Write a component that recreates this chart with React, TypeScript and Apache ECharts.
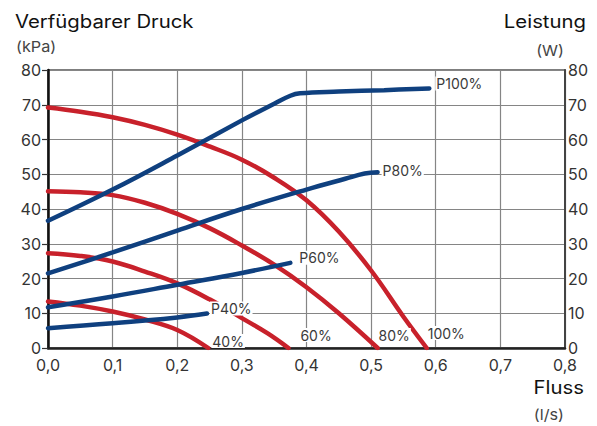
import React, { useEffect, useRef } from "react";
import * as echarts from "echarts";

// Pressure curves (kPa) – x: flow l/s
const p100: [number, number][] = [[0, 69.2], [0.05, 68.0], [0.1, 66.4], [0.15, 64.2], [0.2, 61.4], [0.25, 58.0], [0.3, 54.2], [0.35, 49.0], [0.4, 42.5], [0.45, 33.5], [0.5, 22.3], [0.55, 9.0], [0.586, 0]];
const p80: [number, number][] = [[0, 45.1], [0.05, 44.8], [0.1, 44.0], [0.15, 41.8], [0.2, 38.6], [0.25, 34.5], [0.3, 29.5], [0.35, 24.0], [0.4, 17.5], [0.45, 10.0], [0.51, 0]];
const p60: [number, number][] = [[0, 27.3], [0.05, 26.5], [0.1, 24.9], [0.15, 22.0], [0.2, 18.6], [0.25, 14.0], [0.3, 8.6], [0.34, 4.2], [0.372, 0]];
const p40: [number, number][] = [[0, 13.4], [0.05, 12.2], [0.1, 10.5], [0.15, 8.2], [0.2, 5.2], [0.248, 0]];

// Power curves (W)
const w100: [number, number][] = [[0, 36.6], [0.1, 45.6], [0.2, 55.4], [0.3, 65.5], [0.35, 70.3], [0.375, 72.6], [0.39, 73.3], [0.45, 73.8], [0.52, 74.2], [0.59, 74.7]];
const w80: [number, number][] = [[0, 21.5], [0.1, 27.5], [0.2, 33.8], [0.3, 40.0], [0.4, 45.6], [0.46, 48.7], [0.49, 50.2], [0.51, 50.6]];
const w60: [number, number][] = [[0, 11.7], [0.1, 14.8], [0.2, 18.2], [0.3, 21.6], [0.375, 24.5]];
const w40: [number, number][] = [[0, 5.7], [0.1, 7.1], [0.2, 8.8], [0.246, 9.9]];

const pressureNames = ["100%", "80%", "60%", "40%"];
const powerNames = ["P100%", "P80%", "P60%", "P40%"];

const RED = "#c8212b";
const BLUE = "#0f407f";
const FONT = "Inter";

export default function App() {
  const ref = useRef<HTMLDivElement>(null);
  useEffect(() => {
    if (!ref.current) return;
    const chart = echarts.init(ref.current, undefined, { renderer: "svg" });
    const pData = [p100, p80, p60, p40];
    const wData = [w100, w80, w60, w40];
    const pOff: [number, number][] = [[-4, -15], [-4, -13], [7, -13], [-1, -7]];
    const wOff: [number, number][] = [[2, -5], [0, -2], [4, -5], [-1, -5]];
    const labelStyle = {
      show: true,
      color: "#3a3a3a",
      fontSize: 14,
      fontFamily: FONT,
      backgroundColor: "#fff",
      padding: [0, 1, 0, 1],
      distance: 4,
    };
    const series: any[] = [];
    pData.forEach((d, i) => {
      series.push({
        type: "line",
        name: pressureNames[i],
        data: d,
        yAxisIndex: 0,
        smooth: 0.4,
        showSymbol: false,
        lineStyle: { color: RED, width: 4.5, cap: "round" },
        endLabel: { ...labelStyle, formatter: pressureNames[i], offset: pOff[i] },
        z: 2,
      });
    });
    wData.forEach((d, i) => {
      series.push({
        type: "line",
        name: powerNames[i],
        data: d,
        yAxisIndex: 1,
        smooth: 0.4,
        showSymbol: false,
        lineStyle: { color: BLUE, width: 4.5, cap: "round" },
        endLabel: { ...labelStyle, formatter: powerNames[i], offset: wOff[i] },
        z: 3,
      });
    });
    const big = (text: string, x: number, y: number, align: string) => ({
      type: "text",
      x,
      y,
      scaleX: 1.13,
      style: { text, font: `18px ${FONT}`, fill: "#111", align, verticalAlign: "middle" },
    });
    const small = (text: string, x: number, y: number, align: string) => ({
      type: "text",
      x,
      y,
      scaleX: 1.08,
      style: { text, font: `15px ${FONT}`, fill: "#444", align, verticalAlign: "middle" },
    });
    chart.setOption({
      animation: false,
      textStyle: { fontFamily: FONT },
      graphic: [
        big("Verfügbarer Druck", 15, 21, "left"),
        small("(kPa)", 16, 47, "left"),
        big("Leistung", 586, 21, "right"),
        small("(W)", 564, 51, "right"),
        big("Fluss", 584, 387, "right"),
        small("(l/s)", 564, 415, "right"),
      ],
      grid: { left: 48, right: 32, top: 70, bottom: 78, show: true, borderColor: "#555", borderWidth: 1.5, backgroundColor: "transparent" },
      xAxis: {
        type: "value",
        min: 0,
        max: 0.8,
        interval: 0.1,
        axisLine: { show: true, onZero: false, lineStyle: { color: "#222", width: 2.5 } },
        axisTick: { show: false },
        splitLine: { show: true, lineStyle: { color: "#858585", width: 1.2 } },
        axisLabel: { color: "#333", fontSize: 16, fontFamily: FONT, margin: 10, lineHeight: 14, formatter: (v: number) => v.toFixed(1).replace(".", ",") },
      },
      yAxis: [
        {
          type: "value",
          min: 0,
          max: 80,
          interval: 10,
          axisLine: { show: true, lineStyle: { color: "#111", width: 2.5 } },
          axisTick: { show: true, length: 6, lineStyle: { color: "#333", width: 1.2 } },
          splitLine: { show: true, lineStyle: { color: "#858585", width: 1.2 } },
          axisLabel: { color: "#333", fontSize: 16, fontFamily: FONT, margin: 7, lineHeight: 12 },
        },
        {
          type: "value",
          min: 0,
          max: 80,
          interval: 10,
          position: "right",
          axisLine: { show: true, lineStyle: { color: "#444", width: 2 } },
          axisTick: { show: false },
          splitLine: { show: false },
          axisLabel: { color: "#333", fontSize: 16, fontFamily: FONT, margin: 3, lineHeight: 12 },
        },
      ],
      series,
    });
    return () => chart.dispose();
  }, []);
  return <div ref={ref} style={{ width: 597, height: 426, position: "absolute", left: 0, top: 0 }} />;
}
